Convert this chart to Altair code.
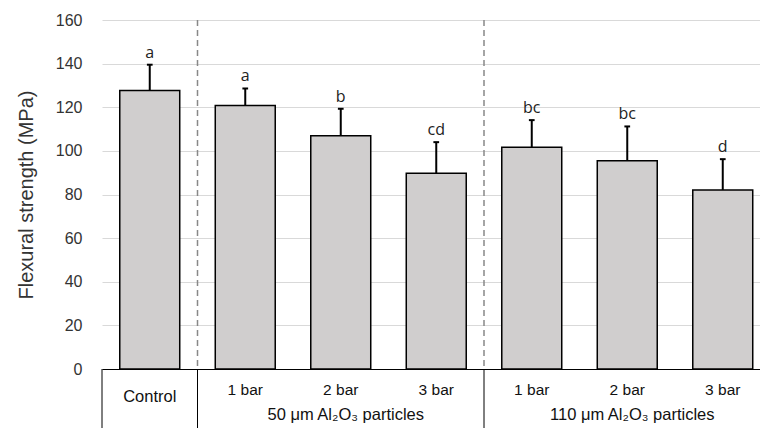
import altair as alt
import pandas as pd

categories = ["Control", "1 bar", "2 bar", "3 bar", "1 bar", "2 bar", "3 bar"]
values = [127.7, 120.8, 106.9, 89.7, 101.7, 95.5, 82.1]
errors = [11.8, 7.8, 12.4, 14.3, 12.4, 15.7, 14.1]
letters = ["a", "a", "b", "cd", "bc", "bc", "d"]
groups = ["50 μm Al₂O₃ particles", "110 μm Al₂O₃ particles"]
group_centers = [2, 5]
separators = [0.5, 3.5]
table_lines = [-0.5, 0.5, 3.5]
y_ticks = [0, 20, 40, 60, 80, 100, 120, 140, 160]

df = pd.DataFrame({
    "pos": list(range(len(categories))),
    "cat": categories,
    "value": values,
    "err": errors,
    "letter": letters,
})
sep_df = pd.DataFrame({"x": separators})
tab_df = pd.DataFrame({"x": table_lines})
grp_df = pd.DataFrame({"x": group_centers, "g": groups})

HALF = 0.314
CAP = 0.03

x_scale = alt.Scale(domain=[-0.5, 6.39], nice=False, zero=False)
y_scale = alt.Scale(domain=[0, 160], nice=False, zero=True)

x_axis = alt.Axis(title=None, labels=False, ticks=False, grid=False,
                  domain=True, domainColor="#000000", domainWidth=1)
y_axis = alt.Axis(title="Flexural strength (MPa)", values=y_ticks,
                  grid=True, gridColor="#d9d9d9", gridWidth=1,
                  domain=False, ticks=False, labelPadding=20,
                  labelFont="Liberation Sans", labelFontSize=16, labelColor="#333333",
                  titleFont="Liberation Sans", titleFontSize=20,
                  titleFontWeight="normal", titleColor="#333333",
                  titleX=-70, titleY=174.5, titleAngle=270,
                  titleBaseline="alphabetic", titleAlign="center")

base = alt.Chart(df).transform_calculate(
    x0=f"datum.pos - {HALF}",
    x1=f"datum.pos + {HALF}",
    top="datum.value + datum.err",
    c0=f"datum.pos - {CAP}",
    c1=f"datum.pos + {CAP}",
)

grid_sep = alt.Chart(sep_df).mark_rule(
    color="#888888", strokeWidth=1.5, strokeDash=[6, 4]
).encode(
    x=alt.X("x:Q", scale=x_scale, axis=x_axis),
    y=alt.value(0), y2=alt.value(349),
)

bars = base.mark_bar(color="#d0cece", stroke="#000000", strokeWidth=1.5).encode(
    x=alt.X("x0:Q", scale=x_scale, axis=x_axis),
    x2="x1:Q",
    y=alt.Y("value:Q", scale=y_scale, axis=y_axis),
    y2=alt.datum(0),
)

err_line = base.mark_rule(color="#000000", strokeWidth=2).encode(
    x=alt.X("pos:Q", scale=x_scale, axis=x_axis),
    y=alt.Y("value:Q", scale=y_scale, axis=y_axis),
    y2="top:Q",
)

err_cap = base.mark_rule(color="#000000", strokeWidth=2).encode(
    x=alt.X("c0:Q", scale=x_scale, axis=x_axis),
    x2="c1:Q",
    y=alt.Y("top:Q", scale=y_scale, axis=y_axis),
)

letter_text = base.mark_text(
    dy=-7, baseline="alphabetic", font="Open Sans", fontSize=16, color="#222222"
).encode(
    x=alt.X("pos:Q", scale=x_scale, axis=x_axis),
    y=alt.Y("top:Q", scale=y_scale, axis=y_axis),
    text="letter:N",
)

tab_rules = alt.Chart(tab_df).mark_rule(color="#000000", strokeWidth=1).encode(
    x=alt.X("x:Q", scale=x_scale, axis=x_axis),
    y=alt.value(349), y2=alt.value(420),
)

ctrl_text = base.transform_filter("datum.pos == 0").mark_text(
    baseline="alphabetic", font="Liberation Sans", fontSize=16.5, color="#111111"
).encode(
    x=alt.X("pos:Q", scale=x_scale, axis=x_axis),
    y=alt.value(381.5),
    text="cat:N",
)

cat_text = base.transform_filter("datum.pos > 0").mark_text(
    baseline="alphabetic", font="Liberation Sans", fontSize=15.5, color="#111111"
).encode(
    x=alt.X("pos:Q", scale=x_scale, axis=x_axis),
    y=alt.value(375),
    text="cat:N",
)

grp_text = alt.Chart(grp_df).mark_text(
    baseline="alphabetic", font="Liberation Sans", fontSize=16.5, color="#111111", dx=5
).encode(
    x=alt.X("x:Q", scale=x_scale, axis=x_axis),
    y=alt.value(400),
    text="g:N",
)

chart = alt.layer(
    grid_sep, bars, err_line, err_cap, letter_text, tab_rules, ctrl_text, cat_text, grp_text
).properties(
    width=658, height=349,
    autosize=alt.AutoSizeParams(type="none"),
    padding={"left": 102, "top": 20, "right": 0, "bottom": 59},
    background="#ffffff",
).configure_view(stroke=None)

chart.save("out.html", embed_options={"renderer": "svg", "actions": False})
